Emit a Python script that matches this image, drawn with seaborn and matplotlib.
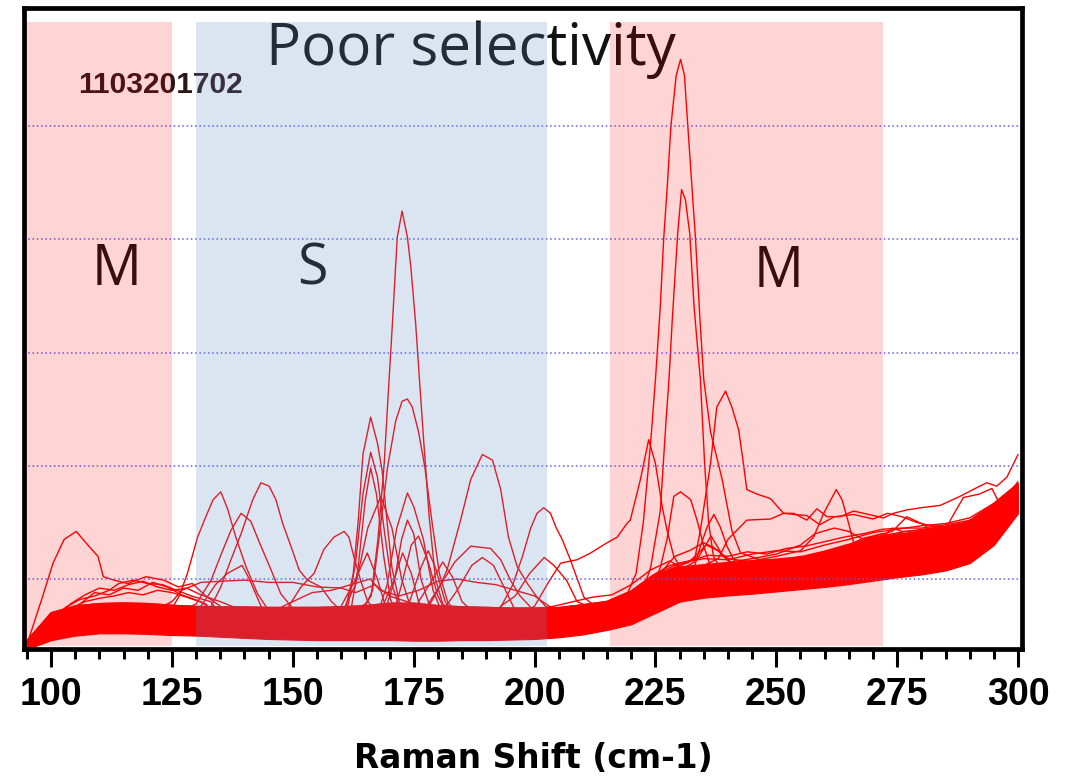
import numpy as np
import pandas as pd
import matplotlib
matplotlib.use("Agg")
import matplotlib.pyplot as plt
import seaborn as sns

# ---------------- data ----------------
BAND_X = [95, 100, 105, 110, 115, 120, 125, 130, 135, 140, 145, 150, 155, 160,
          165, 170, 175, 180, 185, 190, 195, 200, 205, 210, 215, 220, 225, 230,
          235, 240, 245, 250, 255, 260, 265, 270, 275, 280, 285, 290, 295, 300]
BAND_LO = [0.38, 0.46, 0.50, 0.52, 0.52, 0.515, 0.505, 0.50, 0.49, 0.48, 0.47,
           0.465, 0.46, 0.46, 0.46, 0.46, 0.455, 0.455, 0.46, 0.46, 0.465, 0.47,
           0.485, 0.51, 0.55, 0.60, 0.70, 0.80, 0.835, 0.855, 0.87, 0.89, 0.91,
           0.93, 0.955, 0.985, 1.015, 1.04, 1.075, 1.14, 1.30, 1.58]
BAND_HI = [0.45, 0.69, 0.75, 0.77, 0.775, 0.77, 0.755, 0.745, 0.74, 0.74, 0.735,
           0.735, 0.735, 0.74, 0.75, 0.77, 0.77, 0.75, 0.74, 0.735, 0.73, 0.73,
           0.735, 0.76, 0.79, 0.88, 1.03, 1.10, 1.12, 1.14, 1.155, 1.17, 1.19,
           1.24, 1.30, 1.36, 1.40, 1.43, 1.46, 1.50, 1.65, 1.83]

# individual spectra: level inside the band + points where they leave it
SPEC_L1 = [(95.3, 0.46), (98.2, 0.84), (100.4, 1.14), (102.7, 1.35), (105.2, 1.42), (107.8, 1.29),
           (109.7, 1.20), (110.8, 1.02), (113, 0.99), (115.9, 0.96), (119.6, 1.02), (123.3, 0.99),
           (126.3, 0.93), (129.2, 0.96), (132, 0.85), (135, 0.76)]
SPEC_L2 = [(97, 0.45), (100, 0.62), (103, 0.75), (106, 0.82), (109, 0.85), (112, 0.90), (114, 0.96),
           (117, 0.99), (120, 0.96), (123, 0.95), (126, 0.90), (129, 0.85), (133, 0.80)]
SPEC_L3 = [(97, 0.42), (100, 0.58), (103, 0.70), (106, 0.78), (109, 0.88), (112, 0.86), (115, 0.92),
           (118, 0.90), (121, 0.97), (124, 0.93), (127, 0.86), (131, 0.80)]
SPEC_L4 = [(97, 0.44), (100, 0.60), (104, 0.74), (107, 0.80), (110, 0.83), (113, 0.85), (116, 0.88),
           (119, 0.86), (122, 0.90), (125, 0.88), (128, 0.84), (132, 0.78)]
SPEC_L5 = [(98, 0.48), (101, 0.66), (104, 0.78), (107, 0.86), (110, 0.92), (113, 0.90), (116, 0.95),
           (119, 0.98), (122, 0.93), (125, 0.90), (128, 0.92), (131, 0.86), (135, 0.80)]
SPEC_A = [(125, 0.74), (126.5, 0.85), (128.2, 1.05), (130.3, 1.37), (132.0, 1.55), (133.5, 1.70),
          (135.1, 1.77), (136.5, 1.62), (138.2, 1.37), (140.3, 1.11), (142.7, 0.87), (145, 0.72)]
SPEC_B = [(133, 0.75), (135.1, 0.93), (137.2, 1.17), (139.3, 1.40), (141.7, 1.70), (143.4, 1.85),
          (145.1, 1.82), (146.5, 1.70), (147.9, 1.49), (149.6, 1.29), (151.3, 1.08), (153.0, 0.99),
          (155.8, 0.93), (158, 0.80), (160, 0.72)]
SPEC_C = [(130, 0.78), (133.1, 0.99), (135, 1.2), (137.2, 1.43), (139.3, 1.58), (141.3, 1.51),
          (143.4, 1.29), (145.5, 1.08), (147.5, 0.87), (150, 0.74)]
SPEC_P5 = [(131, 0.76), (134, 0.95), (136.5, 1.05), (139.5, 1.12), (141, 1.0), (143, 0.8)]
SPEC_S1 = [(125, 0.80), (127, 0.9), (131, 0.97), (135, 0.98), (140, 0.99), (145, 0.97), (150, 0.97),
           (155, 0.93), (160, 0.92), (163, 0.88), (167, 0.95), (170, 0.85), (175, 0.78)]
SPEC_S2 = [(148, 0.76), (150, 0.8), (154, 0.88), (158, 0.9), (162, 0.95), (166, 1.0), (168, 0.9),
           (172, 0.85), (176, 0.9), (180, 0.98), (184, 1.0), (188, 0.97), (192, 0.95), (196, 0.9),
           (200, 0.85), (203, 0.76)]
SPEC_E = [(149, 0.75), (151.7, 0.93), (154.4, 1.05), (156.4, 1.26), (158.5, 1.37), (160.6, 1.42),
          (161.6, 1.37), (162.6, 1.20), (164.0, 0.99), (165.4, 0.81), (167, 0.72)]
SPEC_F1 = [(161, 0.75), (162.5, 1.05), (163.5, 1.5), (164.5, 2.1), (166.1, 2.43), (167.5, 2.2),
           (168.5, 1.95), (169.5, 1.5), (170.5, 1.1), (172, 0.8)]
SPEC_F2 = [(161.5, 0.78), (163, 1.15), (164.5, 1.75), (166.1, 2.12), (167.5, 1.9), (169, 1.4),
           (170.5, 0.95), (172, 0.76)]
SPEC_F3 = [(162, 0.72), (163.5, 1.1), (165, 1.7), (166.1, 1.98), (167.3, 1.75), (168.8, 1.2),
           (170.2, 0.82), (171.5, 0.7)]
SPEC_G = [(165, 0.78), (166.2, 0.85), (167.6, 1.35), (168.9, 2.02), (169.7, 2.61), (170.6, 3.26),
          (171.6, 4.02), (172.6, 4.25), (173.7, 4.02), (174.4, 3.76), (175.4, 3.26), (176.1, 2.82),
          (177.1, 2.20), (178.2, 1.55), (179.5, 1.0), (181, 0.78)]
SPEC_H = [(165, 0.76), (166.5, 0.9), (167.8, 1.35), (169.6, 1.99), (171.3, 2.40), (172.6, 2.57),
          (173.7, 2.59), (174.7, 2.52), (176, 2.30), (177.3, 1.99), (178.8, 1.5), (180.3, 1.05),
          (182, 0.8)]
SPEC_I1 = [(168, 0.75), (169.5, 0.95), (171.5, 1.45), (173.7, 1.76), (175, 1.64), (177, 1.35),
           (179, 0.9), (180.5, 0.74)]
SPEC_I2 = [(169.5, 0.78), (171, 0.98), (172.5, 1.35), (173.7, 1.52), (175, 1.40), (176.5, 1.0),
           (178, 0.8)]
SPEC_I3 = [(171, 0.72), (172.5, 0.95), (174.5, 1.30), (176, 1.38), (178, 1.15), (180, 0.85),
           (181.5, 0.72)]
SPEC_I4 = [(161, 0.78), (163, 0.95), (165.5, 1.45), (168.2, 1.73), (170.5, 1.45), (172.5, 1.0),
           (174, 0.8)]
SPEC_P1 = [(168.5, 0.75), (171, 1.0), (172.7, 1.23), (174.5, 1.05), (176, 0.8)]
SPEC_P2 = [(174, 0.78), (176.5, 1.1), (178, 1.25), (179.5, 1.1), (181.5, 0.8)]
SPEC_P3 = [(160, 0.76), (163, 1.0), (165.4, 1.23), (167.5, 1.0), (169, 0.78)]
SPEC_P4 = [(176, 0.8), (179, 1.0), (181, 1.15), (183, 1.02), (185, 0.8)]
SPEC_J = [(178, 0.75), (180, 0.9), (181.9, 1.08), (184.7, 1.52), (186.8, 1.88), (189.2, 2.10),
          (191.3, 2.05), (193.0, 1.79), (194.6, 1.37), (196.4, 1.11), (198.5, 0.96), (200.5, 0.84),
          (202.5, 0.75)]
SPEC_L = [(178, 0.78), (180.6, 0.95), (183.5, 1.15), (186.8, 1.29), (190.9, 1.27), (193, 1.17),
          (195, 0.99), (197, 0.85), (199, 0.76)]
SPEC_M1 = [(181, 0.72), (184, 0.9), (187, 1.12), (189.2, 1.19), (191.5, 1.12), (194, 0.9), (196, 0.72)]
SPEC_K = [(193, 0.75), (195.5, 0.95), (197.5, 1.2), (199.2, 1.45), (200.5, 1.58), (201.9, 1.63),
          (203.3, 1.58), (204.5, 1.45), (205.6, 1.36), (207.4, 1.17), (210.2, 0.84), (213, 0.74)]
SPEC_M2 = [(193, 0.76), (196, 0.85), (199, 1.05), (202, 1.19), (204, 1.12), (206.6, 0.99),
           (208.8, 0.80), (211, 0.76)]
SPEC_R3 = [(200, 0.76), (203, 0.98), (205.4, 1.14), (208.8, 1.17), (211.6, 1.23), (215, 1.32),
           (217.1, 1.37), (219.1, 1.49), (219.8, 1.52), (221.9, 1.88), (223.6, 2.23), (225.0, 2.02),
           (226.4, 1.64), (227.4, 1.43), (228.8, 1.20), (230.5, 1.08), (233, 1.05)]
SPEC_T = [(217, 0.8), (219, 0.85), (221, 1.05), (222.5, 1.5), (224, 2.2), (225, 2.76), (226, 3.4),
          (226.7, 4.0), (227.5, 4.5), (228.2, 5.0), (229.3, 5.45), (230.2, 5.59), (231, 5.45),
          (231.7, 5.0), (232.5, 4.5), (233.3, 4.0), (234.2, 3.3), (235, 2.76), (236.4, 2.3),
          (238.8, 1.88), (240.8, 1.43), (242.6, 1.23), (246, 1.18)]
SPEC_R2 = [(222, 0.85), (224, 1.1), (226, 1.6), (227.2, 2.4), (227.8, 2.76), (228.5, 3.3),
           (229.6, 4.05), (230.4, 4.44), (231.2, 4.35), (232.1, 4.05), (233, 3.4), (234.3, 2.76),
           (235.2, 2.0), (236, 1.5), (237, 1.2), (239, 1.05)]
SPEC_R1 = [(228, 1.08), (231, 1.1), (233, 1.15), (234.3, 1.43), (236.4, 2.02), (237.7, 2.52),
           (239.5, 2.66), (240.8, 2.52), (242.2, 2.32), (243.2, 2.02), (243.9, 1.79), (246, 1.75),
           (248.8, 1.71), (251.5, 1.58), (253.6, 1.58), (256.3, 1.52), (258.4, 1.62), (260.5, 1.55),
           (263.2, 1.55), (266.0, 1.60), (272.2, 1.54), (274.2, 1.58), (277.0, 1.61), (280, 1.63),
           (283.9, 1.65), (288.0, 1.73), (290.7, 1.79), (293.5, 1.85), (295.6, 1.82), (297.7, 1.90),
           (300, 2.10)]
SPEC_R4 = [(224, 0.9), (226, 1.1), (227.4, 1.35), (228.8, 1.73), (230.2, 1.77), (232.3, 1.70),
           (233.6, 1.52), (235, 1.29), (236.4, 1.11), (238, 1.0)]
SPEC_R5 = [(231, 0.95), (233, 1.1), (234.3, 1.29), (235.7, 1.46), (237.1, 1.57), (238.4, 1.46),
           (239.8, 1.29), (241.2, 1.17), (243, 1.08)]
SPEC_R6 = [(245, 1.16), (250, 1.20), (255, 1.25), (257.7, 1.37), (259.8, 1.58), (262.4, 1.79),
           (263.6, 1.70), (264.6, 1.55), (266, 1.32), (268, 1.28), (271, 1.33), (274, 1.45), (276, 1.42)]
SPEC_Q1 = [(226, 1.0), (229, 1.1), (232, 1.15), (235.5, 1.30), (238, 1.25), (241, 1.12), (245, 1.10),
           (250, 1.15), (255, 1.20), (260, 1.18), (264, 1.22), (268, 1.28), (272, 1.30)]
SPEC_Q2 = [(222, 0.92), (226, 1.05), (230, 1.12), (234, 1.2), (236.5, 1.38), (239, 1.2), (243, 1.08),
           (248, 1.08)]
SPEC_Q3 = [(225, 1.0), (229, 1.2), (232, 1.25), (235, 1.32), (237, 1.28), (240, 1.18), (245, 1.15),
           (250, 1.12)]
SPEC_Q5 = [(238, 1.18), (240, 1.35), (243.9, 1.52), (248.8, 1.53), (251.5, 1.58), (256.3, 1.56),
           (259, 1.48), (262, 1.55), (266, 1.57), (270, 1.53), (273, 1.58), (276, 1.55), (279, 1.50),
           (282, 1.47)]
SPEC_Q6 = [(242, 1.16), (245, 1.18), (250, 1.22), (255, 1.30), (258, 1.40), (262, 1.45), (265, 1.42),
           (268, 1.35), (272, 1.40), (276, 1.30), (280, 1.35)]
SPEC_E1 = [(268, 1.36), (270, 1.38), (274, 1.42), (277, 1.55), (280, 1.49), (284.5, 1.37), (286, 1.52),
           (288.7, 1.72), (292, 1.75), (294.6, 1.80), (296, 1.68), (298, 1.75), (300, 1.86)]
SPEC_E2 = [(272, 1.38), (276, 1.40), (280, 1.35), (284, 1.38), (287, 1.45), (290, 1.52), (294, 1.55),
           (297, 1.68), (300, 1.82)]
SPEC_U1 = [(224, 1.02), (228, 1.12), (232, 1.16), (236, 1.21), (240, 1.20), (244, 1.24), (248, 1.22),
           (252, 1.27), (256, 1.29), (260, 1.33), (264, 1.37), (268, 1.40), (272, 1.44), (276, 1.45)]
SPEC_U2 = [(226, 1.06), (230, 1.14), (235, 1.18), (240, 1.17), (245, 1.22), (250, 1.25), (255, 1.24),
           (260, 1.30), (265, 1.35), (270, 1.41), (275, 1.44), (280, 1.47), (285, 1.49), (290, 1.54)]
SPEC_U3 = [(204, 0.76), (208, 0.80), (212, 0.84), (216, 0.86), (220, 0.95), (224, 1.08), (228, 1.16)]

SPECTRA = [SPEC_L1, SPEC_L2, SPEC_L3, SPEC_L4, SPEC_L5, SPEC_A, SPEC_B, SPEC_C, SPEC_P5, SPEC_S1,
           SPEC_S2, SPEC_E, SPEC_F1, SPEC_F2, SPEC_F3, SPEC_G, SPEC_H, SPEC_I1, SPEC_I2, SPEC_I3,
           SPEC_I4, SPEC_P1, SPEC_P2, SPEC_P3, SPEC_P4, SPEC_J, SPEC_L, SPEC_M1, SPEC_K, SPEC_M2,
           SPEC_R3, SPEC_T, SPEC_R2, SPEC_R1, SPEC_R4, SPEC_R5, SPEC_R6, SPEC_Q1, SPEC_Q2, SPEC_Q3,
           SPEC_Q5, SPEC_Q6, SPEC_E1, SPEC_E2, SPEC_U1, SPEC_U2, SPEC_U3]
SPEC_LEVEL = [0.3, 0.8, 0.7, 0.6, 0.9, 0.6, 0.5, 0.7, 0.55, 0.7,
              0.8, 0.55, 0.5, 0.6, 0.4, 0.7, 0.6, 0.5, 0.7, 0.45,
              0.65, 0.5, 0.5, 0.5, 0.5, 0.55, 0.65, 0.4, 0.5, 0.6,
              0.7, 0.8, 0.6, 1.0, 0.5, 0.6, 1.0, 0.9, 0.8, 0.9,
              1.0, 1.0, 1.0, 1.0, 1.05, 1.05, 1.02]

REGION_LABEL = ["M", "S", "M"]
REGION_X0 = [94.3, 130.0, 215.7]
REGION_X1 = [125.1, 202.6, 272.1]
REGION_KIND = ["metal", "semi", "metal"]
GRID_Y = [1, 2, 3, 4, 5]
X_TICKS = [100, 125, 150, 175, 200, 225, 250, 275, 300]
TITLE = "Poor selectivity"
SAMPLE_ID = "1103201702"
X_LABEL = "Raman Shift (cm-1)"

# ---------------- build long table ----------------
bx = np.array(BAND_X, float)
blo = np.array(BAND_LO)
bhi = np.array(BAND_HI)
rows = []
for sid, (pts, lvl) in enumerate(zip(SPECTRA, SPEC_LEVEL)):
    base = blo + lvl * (bhi - blo)
    x0 = min(p[0] for p in pts)
    x1 = max(p[0] for p in pts)
    for xx, yy in zip(bx, base):
        if xx < x0 - 0.5 or xx > x1 + 0.5:
            rows.append((sid, xx, yy))
    for xx, yy in pts:
        rows.append((sid, xx, yy))
df = pd.DataFrame(rows, columns=["spectrum", "shift", "intensity"])

# ---------------- figure ----------------
sns.set_style("white")
plt.rcParams["font.family"] = ["Liberation Sans", "DejaVu Sans"]
plt.rcParams["text.color"] = "black"
plt.rcParams["axes.labelcolor"] = "black"
plt.rcParams["xtick.color"] = "black"

fig = plt.figure(figsize=(10.66, 7.8), dpi=100)
ax = fig.add_axes([23.5 / 1066, 1 - 649 / 780, 998 / 1066, 641 / 780])

ax.fill_between(bx, blo, bhi, color="#ff0000", lw=0.8, zorder=2)
sns.lineplot(data=df, x="shift", y="intensity", units="spectrum", estimator=None,
             sort=True, color="#ff0000", lw=1.0, legend=False, ax=ax, zorder=2.5)

for gy in GRID_Y:
    ax.axhline(gy, color="#5f5ff5", lw=1.1, ls=(0, (1, 1.8)), zorder=3)

txt_kw = dict(family="Open Sans", color="#121212", zorder=3.5)
ax.text(186.9, 5.54, TITLE, ha="center", va="baseline", fontsize=42, **txt_kw)
ax.text(113.5, 3.60, REGION_LABEL[0], ha="center", va="baseline", fontsize=40, **txt_kw)
ax.text(154.1, 3.60, REGION_LABEL[1], ha="center", va="baseline", fontsize=40, **txt_kw)
ax.text(250.4, 3.58, REGION_LABEL[2], ha="center", va="baseline", fontsize=40, **txt_kw)
ax.text(122.7, 5.29, SAMPLE_ID, ha="center", va="baseline", fontsize=21.5,
        family="Liberation Sans", fontweight="bold", color="#2a1616", zorder=3.5)

for x0, x1, kind in zip(REGION_X0, REGION_X1, REGION_KIND):
    if kind == "metal":
        ax.fill_between([x0, x1], [0.41, 0.41], [5.92, 5.92], color="#ff0000", alpha=0.17,
                        lw=0, zorder=4)
    else:
        ax.fill_between([x0, x1], [0.41, 0.41], [5.92, 5.92], color="#628fc4", alpha=0.224,
                        lw=0, zorder=4)

ax.set_xlim(94.29, 300.72)
ax.set_ylim(0.3816, 6.044)
ax.set_xticks(X_TICKS)
ax.set_xticks(np.arange(95, 301, 5), minor=True)
ax.set_xticklabels([str(t) for t in X_TICKS], fontsize=27, fontweight="bold",
                   family="Liberation Sans", color="black")
ax.set_yticks([])
ax.tick_params(axis="x", which="major", direction="out", length=13, width=2.2, pad=7,
               bottom=True, color="black", labelcolor="black")
ax.tick_params(axis="x", which="minor", direction="out", length=7.5, width=2.2,
               bottom=True, color="black")
for s in ax.spines.values():
    s.set_visible(True)
    s.set_color("black")
    s.set_linewidth(3.4)
    s.set_zorder(10)
ax.set_xlabel(X_LABEL, fontsize=23.7, fontweight="bold", family="DejaVu Sans", color="black")
ax.set_ylabel("")
ax.xaxis.label.set_va("baseline")
ax.xaxis.set_label_coords(0.5108, -0.1861)

fig.savefig("out.png", dpi=100)
